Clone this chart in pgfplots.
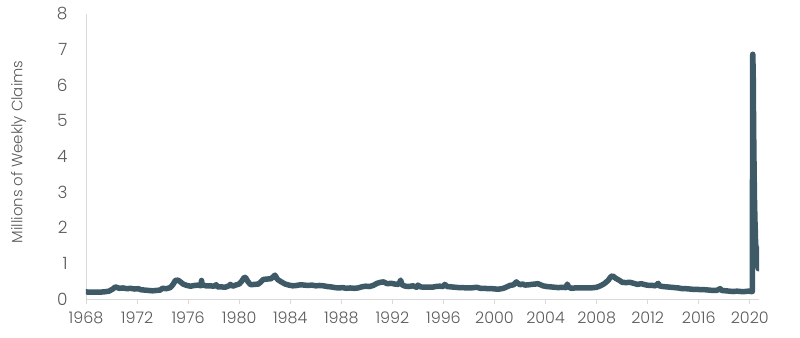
\documentclass[border=0pt]{standalone}
\usepackage{pgfplots}
\pgfplotsset{compat=1.18}
\usepackage{fontspec}
\setmainfont{Poppins Light}
\definecolor{lineC}{HTML}{3E5A66}
\definecolor{axC}{HTML}{D9D9D9}
\definecolor{txtC}{HTML}{5A5A5A}
\begin{document}
\begin{tikzpicture}
\path[use as bounding box] (-86bp,-39bp) rectangle (714bp,299bp);
\begin{axis}[
  scale only axis, width=673bp, height=285bp,
  at={(0,0)}, anchor=south west,
  xmin=1968, xmax=2020.72, ymin=0, ymax=8,
  axis x line*=bottom, axis y line*=left,
  axis line style={draw=axC, line width=0.8bp},
  xtick={1968,1972,...,2020}, ytick={0,1,...,8},
  xticklabel style={/pgf/number format/1000 sep={}, font=\fontsize{16}{16}\selectfont, text=txtC, yshift=-4bp},
  yticklabel style={font=\fontsize{17}{17}\selectfont, text=txtC, xshift=-10bp},
  /pgf/number format/assume math mode=true,
  x tick style={draw=axC, line width=0.8bp},
  tick align=outside, major tick length=5bp,
  y tick style={draw=none},
  ylabel={Millions of Weekly Claims},
  every axis y label/.style={at={(axis description cs:-0.1,0.516)}, rotate=90, anchor=center, font=\fontsize{15}{15}\selectfont, text=txtC},
]
\addplot[lineC, line width=5.5bp, line join=round, line cap=round] coordinates {
(1968.0,0.20) (1968.3,0.19) (1968.6,0.19) (1969.0,0.19) (1969.4,0.20) (1969.8,0.22)
(1970.1,0.28) (1970.3,0.34) (1970.6,0.30) (1970.9,0.31) (1971.2,0.29) (1971.5,0.30)
(1971.8,0.28) (1972.1,0.29) (1972.3,0.26) (1972.6,0.25) (1972.9,0.24) (1973.2,0.23)
(1973.5,0.24) (1973.8,0.25) (1974.0,0.30) (1974.3,0.29) (1974.6,0.32) (1974.8,0.40)
(1975.0,0.52) (1975.2,0.53) (1975.4,0.48) (1975.6,0.42) (1975.9,0.38) (1976.2,0.36)
(1976.5,0.38) (1976.8,0.39) (1977.0,0.37) (1977.05,0.52) (1977.1,0.40) (1977.4,0.37)
(1977.7,0.37) (1978.0,0.36) (1978.2,0.40) (1978.3,0.34) (1978.6,0.34) (1978.9,0.33)
(1979.2,0.37) (1979.3,0.41) (1979.5,0.36) (1979.8,0.40) (1980.0,0.42) (1980.2,0.50)
(1980.4,0.61) (1980.5,0.60) (1980.7,0.48) (1980.9,0.40) (1981.2,0.41) (1981.5,0.42)
(1981.7,0.48) (1981.9,0.55) (1982.2,0.56) (1982.5,0.57) (1982.8,0.67) (1983.0,0.55)
(1983.3,0.48) (1983.6,0.42) (1983.9,0.39) (1984.2,0.37) (1984.5,0.38) (1984.8,0.40)
(1985.1,0.39) (1985.4,0.38) (1985.7,0.39) (1986.0,0.37) (1986.3,0.38) (1986.6,0.37)
(1986.9,0.35) (1987.2,0.34) (1987.5,0.32) (1987.8,0.31) (1988.1,0.32) (1988.4,0.30)
(1988.7,0.31) (1989.0,0.30) (1989.3,0.31) (1989.6,0.34) (1989.9,0.36) (1990.2,0.35)
(1990.5,0.38) (1990.8,0.44) (1991.1,0.47) (1991.3,0.48) (1991.6,0.43) (1991.9,0.44)
(1992.2,0.42) (1992.5,0.41) (1992.65,0.53) (1992.75,0.40) (1993.0,0.36) (1993.3,0.35)
(1993.6,0.37) (1993.9,0.33) (1994.0,0.39) (1994.2,0.34) (1994.5,0.33) (1994.8,0.33)
(1995.1,0.33) (1995.4,0.35) (1995.7,0.36) (1996.0,0.35) (1996.1,0.41) (1996.3,0.35)
(1996.6,0.34) (1996.9,0.33) (1997.2,0.32) (1997.5,0.32) (1997.8,0.31) (1998.1,0.31)
(1998.4,0.32) (1998.6,0.33) (1998.9,0.30) (1999.2,0.30) (1999.5,0.29) (1999.8,0.29)
(2000.1,0.28) (2000.4,0.28) (2000.7,0.30) (2000.9,0.33) (2001.2,0.38) (2001.5,0.40)
(2001.72,0.48) (2001.8,0.45) (2002.0,0.40) (2002.2,0.42) (2002.4,0.39) (2002.7,0.40)
(2002.9,0.41) (2003.2,0.42) (2003.4,0.43) (2003.6,0.40) (2003.8,0.37) (2004.1,0.35)
(2004.4,0.34) (2004.7,0.33) (2005.0,0.32) (2005.3,0.33) (2005.6,0.32) (2005.7,0.42)
(2005.8,0.34) (2006.0,0.30) (2006.3,0.31) (2006.6,0.31) (2006.9,0.31) (2007.2,0.31)
(2007.5,0.31) (2007.8,0.32) (2008.0,0.33) (2008.3,0.37) (2008.6,0.43) (2008.9,0.52)
(2009.1,0.62) (2009.25,0.65) (2009.5,0.58) (2009.8,0.52) (2010.0,0.47) (2010.3,0.46)
(2010.6,0.47) (2010.9,0.44) (2011.2,0.41) (2011.5,0.43) (2011.8,0.40) (2012.1,0.38)
(2012.4,0.38) (2012.6,0.37) (2012.83,0.44) (2012.9,0.37) (2013.2,0.35) (2013.5,0.34)
(2013.8,0.33) (2014.1,0.32) (2014.4,0.31) (2014.7,0.29) (2015.0,0.29) (2015.3,0.28)
(2015.6,0.27) (2015.9,0.27) (2016.2,0.26) (2016.5,0.26) (2016.8,0.25) (2017.1,0.24)
(2017.4,0.24) (2017.68,0.29) (2017.8,0.24) (2018.1,0.23) (2018.4,0.22) (2018.7,0.21)
(2019.0,0.22) (2019.3,0.21) (2019.6,0.21) (2019.9,0.22) (2020.1,0.21) (2020.2,0.21)
(2020.21,3.3) (2020.23,6.87) (2020.25,6.6) (2020.27,6.2) (2020.29,5.2) (2020.31,4.4)
(2020.33,3.8) (2020.35,3.2) (2020.37,2.7) (2020.39,2.4) (2020.41,2.1) (2020.43,1.9)
(2020.45,1.6) (2020.47,1.5) (2020.49,1.45) (2020.51,1.4) (2020.53,1.3) (2020.55,1.4)
(2020.57,1.42) (2020.59,1.2) (2020.61,0.97) (2020.63,1.1) (2020.65,0.9) (2020.67,0.85)
};
\end{axis}
\end{tikzpicture}
\end{document}
